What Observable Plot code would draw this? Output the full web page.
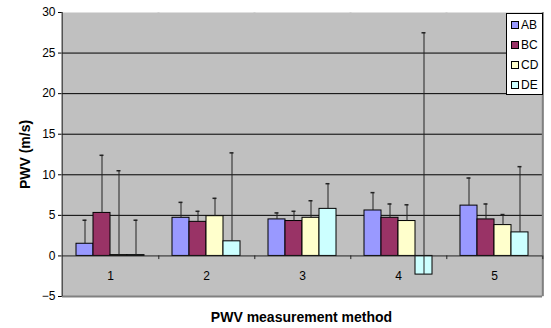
<!DOCTYPE html>
<html>
<head>
<meta charset="utf-8">
<script src="https://cdn.jsdelivr.net/npm/d3@7"></script>
<script src="https://cdn.jsdelivr.net/npm/@observablehq/plot@0.6"></script>
<style>
  html, body { margin: 0; padding: 0; background: #fff; }
  #wrap { position: relative; width: 551px; height: 328px; font-family: "Liberation Sans", Arial, sans-serif; }
  #wrap svg { font-family: "Liberation Sans", Arial, sans-serif; }
  #wrap svg [aria-label="y-axis label"] text, #wrap svg [aria-label="y-axis label"] { font-weight: bold; font-size: 14px; }
  #legend { position: absolute; left: 506px; top: 13px; width: 35px; height: 80px; background: #fff; border: 1px solid #000; font-size: 12px; }
  #legend .item { position: absolute; left: 4px; height: 14px; line-height: 14px; }
  #legend .sw { display: inline-block; width: 6px; height: 6px; border: 1px solid #000; margin-right: 2px; vertical-align: 0px; }
  #xlabel { position: absolute; left: 60px; width: 483px; top: 310px; line-height: 14px; text-align: center; font-weight: bold; font-size: 14px; }
</style>
</head>
<body>
<div id="wrap"></div>
<script>
const groups = ["1", "2", "3", "4", "5"];
const series = ["AB", "BC", "CD", "DE"];
const colors = ["#9999ff", "#993366", "#ffffcc", "#ccffff"];
const AB = [1.5, 4.7, 4.5, 5.6, 6.2];
const BC = [5.3, 4.2, 4.3, 4.7, 4.5];
const CD = [0.1, 4.9, 4.7, 4.3, 3.8];
const DE = [0.1, 1.8, 5.8, -2.3, 2.9];
const AB_upper = [4.4, 6.6, 5.3, 7.8, 9.6];
const BC_upper = [12.4, 5.5, 5.5, 6.4, 6.4];
const CD_upper = [10.5, 7.1, 6.8, 6.3, 5.1];
const DE_upper = [4.4, 12.7, 8.9, 27.5, 11.0];
const yTicks = [-5, 0, 5, 10, 15, 20, 25, 30];
const gridValues = [5, 10, 15, 20, 25];

const valuesBySeries = {AB, BC, CD, DE};
const upperBySeries = {AB: AB_upper, BC: BC_upper, CD: CD_upper, DE: DE_upper};
const data = [];
groups.forEach((g, i) => series.forEach(s => data.push({group: g, series: s, value: valuesBySeries[s][i], upper: upperBySeries[s][i]})));

const W = 551, H = 328, mL = 60, mR = 8, mT = 12, mB = 32;
const half = (W - mL - mR) / groups.length / 2;

const chart = Plot.plot({
  width: W, height: H,
  marginLeft: mL, marginRight: mR, marginTop: mT, marginBottom: mB,
  style: {fontSize: "12px", fontFamily: "Liberation Sans, Arial, sans-serif", color: "#000", background: "#fff"},
  fx: {domain: groups, padding: 0, axis: null},
  x: {domain: series, paddingInner: 0, paddingOuter: 0.79, axis: null},
  y: {domain: [-5, 30], ticks: yTicks, tickSize: 4, tickPadding: 3, label: "PWV (m/s)", labelAnchor: "center", labelOffset: 42, labelArrow: "none"},
  color: {domain: series, range: colors},
  marks: [
    Plot.frame({fill: "#c0c0c0", stroke: null, insetLeft: -1, insetRight: -1}),
    Plot.ruleY(gridValues, {stroke: "#000", strokeWidth: 1}),
    Plot.ruleY([-5], {stroke: "#808080", strokeWidth: 2}),
    Plot.ruleX([groups[groups.length - 1]], {fx: d => d, x: null, y1: -5, y2: 30, dx: half, stroke: "#808080", strokeWidth: 2}),
    Plot.barY(data, {fx: "group", x: "series", y: "value", fill: "series", stroke: "#000", strokeWidth: 1}),
    Plot.ruleX(data, {fx: "group", x: "series", y1: "value", y2: "upper", stroke: "#222", strokeWidth: 1}),
    Plot.tickY(data, {fx: "group", x: "series", y: "upper", stroke: "#222", strokeWidth: 1.5, insetLeft: 6.5, insetRight: 6.5}),
    Plot.ruleY([0], {stroke: "#222", strokeWidth: 1}),
    Plot.ruleX([0], {x: null, y1: 0, y2: -0.45, dx: half, stroke: "#222", strokeWidth: 1}),
    Plot.text(groups, {fx: d => d, text: d => d, y: -2.5, fill: "#000", fontSize: 12}),
    Plot.ruleX([groups[0]], {fx: d => d, x: null, y1: -5, y2: 30, dx: -half, stroke: "#222", strokeWidth: 1})
  ]
});

const wrap = document.getElementById("wrap");
wrap.appendChild(chart);

const legend = document.createElement("div");
legend.id = "legend";
series.forEach((s, i) => {
  const item = document.createElement("div");
  item.className = "item";
  item.style.top = (4 + i * 20) + "px";
  const sw = document.createElement("span");
  sw.className = "sw";
  sw.style.background = colors[i];
  item.appendChild(sw);
  item.appendChild(document.createTextNode(s));
  legend.appendChild(item);
});
wrap.appendChild(legend);

const xl = document.createElement("div");
xl.id = "xlabel";
xl.textContent = "PWV measurement method";
wrap.appendChild(xl);
</script>
</body>
</html>
